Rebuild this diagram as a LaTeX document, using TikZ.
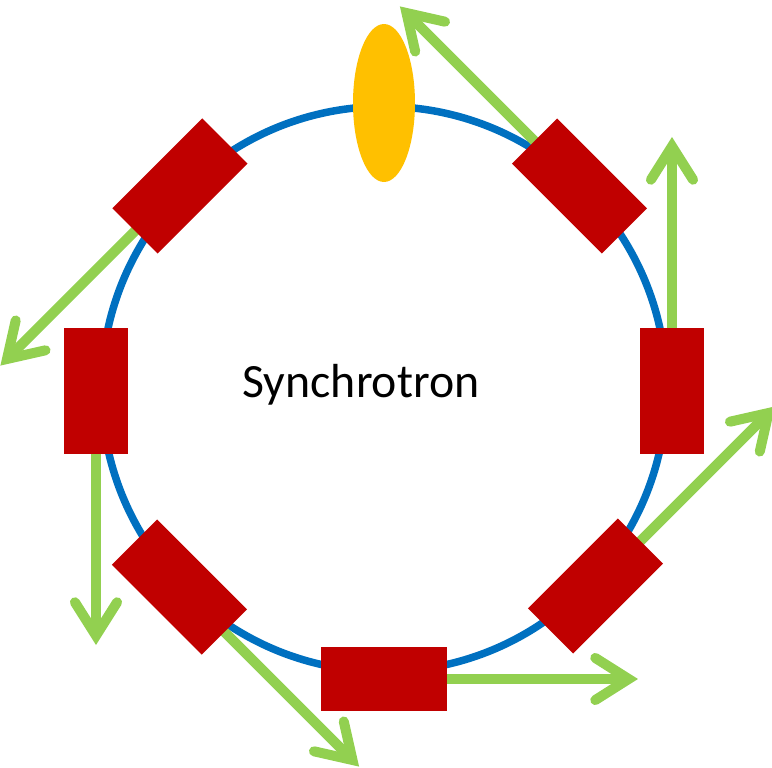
\documentclass[tikz,border=0pt]{standalone}
\usepackage{fontspec}
\setmainfont{Carlito}
\usepackage{tikz}
\usetikzlibrary{arrows.meta,shapes.geometric}
\definecolor{ringBlue}{RGB}{0,112,192}
\definecolor{magnetRed}{RGB}{192,0,0}
\definecolor{beamGreen}{RGB}{146,208,80}
\definecolor{cavityOrange}{RGB}{255,192,0}

\begin{document}
\begin{tikzpicture}[x=0.02cm,y=0.02cm,
  magnet/.style={fill=magnetRed, rotate=#1, minimum width=2.54cm, minimum height=1.28cm, inner sep=0pt},
  beam/.style={beamGreen, line width=0.2cm, -{Straight Barb[length=19pt, width=24pt, line cap=round, line join=miter]}}]
\useasboundingbox (-384,-379) rectangle (388,389);
\draw[ringBlue, line width=0.15cm] (0,0) circle (282.5);

% light leaving each bending magnet along the tangent
\foreach \px/\py/\ang [count=\i] in {195.5/203/45,288/-2/0,211.5/-197/-45,0/-290/-90,-204.5/-198/-135,-288/-2/180,-204/203/135}{
  \coordinate (c\i) at (\px,\py);
  \draw[beam] (c\i) -- ++(\ang+90:254) coordinate (tip\i);
}
\foreach \ang [count=\i] in {45,0,-45,-90,-135,180,135}{
  \node[magnet=\ang+90] (mag\i) at (c\i) {};
}

\node[ellipse, fill=cavityOrange, minimum width=1.24cm, minimum height=3.16cm, inner sep=0pt] (cavity) at (0,286) {};
\node[font=\fontsize{27.2}{32}\selectfont, anchor=base] (label) at (-23,-9) {Synchrotron};
\end{tikzpicture}
\end{document}
